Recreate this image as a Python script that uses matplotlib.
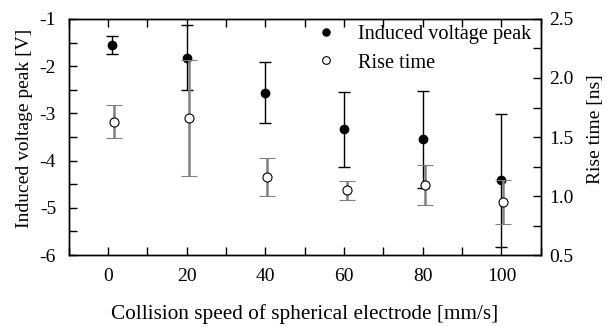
import numpy as np
import matplotlib
matplotlib.use("Agg")
import matplotlib.pyplot as plt
from matplotlib.ticker import MultipleLocator

plt.rcParams['font.family'] = ['Liberation Serif', 'DejaVu Serif']

# data
speed_v = [1, 20, 40, 60, 80, 100]
volt = [-1.55, -1.82, -2.56, -3.34, -3.55, -4.42]
volt_err = [0.19, 0.69, 0.64, 0.80, 1.02, 1.41]

speed_r = [1.5, 20.5, 40.5, 60.8, 80.5, 100.5]
rise = [1.63, 1.66, 1.16, 1.05, 1.09, 0.95]
rise_err = [0.14, 0.49, 0.16, 0.08, 0.17, 0.19]

fig = plt.figure(figsize=(6.07, 3.27), dpi=100)
ax = fig.add_axes([0.113, 0.220, 0.778, 0.722])
ax2 = ax.twinx()

h1 = ax.errorbar(speed_v, volt, yerr=volt_err, fmt='o', color='black',
                 ecolor='black', elinewidth=1.0, capsize=4, capthick=1.0,
                 markersize=6, label='Induced voltage peak')
h2 = ax2.errorbar(speed_r, rise, yerr=rise_err, fmt='o', mfc='white', mec='black',
                  mew=0.8, ecolor='#808080', elinewidth=1.8, capsize=6, capthick=1.8,
                  markersize=6.5, label='Rise time')

ax.set_xlim(-10, 110)
ax.set_ylim(-6, -1)
ax2.set_ylim(0.5, 2.5)

ax.xaxis.set_major_locator(MultipleLocator(20))
ax.xaxis.set_minor_locator(MultipleLocator(10))
ax.yaxis.set_major_locator(MultipleLocator(1))
ax.yaxis.set_minor_locator(MultipleLocator(0.5))
ax2.yaxis.set_major_locator(MultipleLocator(0.5))
ax2.yaxis.set_minor_locator(MultipleLocator(0.25))
ax2.set_yticklabels([f"{v:.1f}" for v in ax2.get_yticks()])
ax.set_yticklabels([f"{int(v)}" for v in ax.get_yticks()])

for a in (ax, ax2):
    a.tick_params(which='both', direction='in', labelsize=14, width=1.0, length=6)
    for s in a.spines.values():
        s.set_linewidth(1.0)
ax.tick_params(which='both', top=True, right=False)
ax.tick_params(axis='x', pad=9)
ax.tick_params(axis='y', pad=9)
ax2.tick_params(axis='y', pad=6)

ax.set_xlabel('Collision speed of spherical electrode [mm/s]', fontsize=15.3, labelpad=14)
ax.set_ylabel('Induced voltage peak [V]', fontsize=14)
ax2.set_ylabel('Rise time [ns]', fontsize=14)
ax.yaxis.set_label_coords(-0.076, 0.535)
ax2.yaxis.set_label_coords(1.097, 0.535)

leg = ax2.legend([h1[0], h2[0]], ['Induced voltage peak', 'Rise time'],
                 loc='upper right', bbox_to_anchor=(1.0, 1.013), frameon=False,
                 fontsize=14.6, markerscale=0.85,
                 handlelength=1.0, handletextpad=1.1, borderaxespad=0.05,
                 labelspacing=0.45)

fig.savefig('out.png', dpi=100)
